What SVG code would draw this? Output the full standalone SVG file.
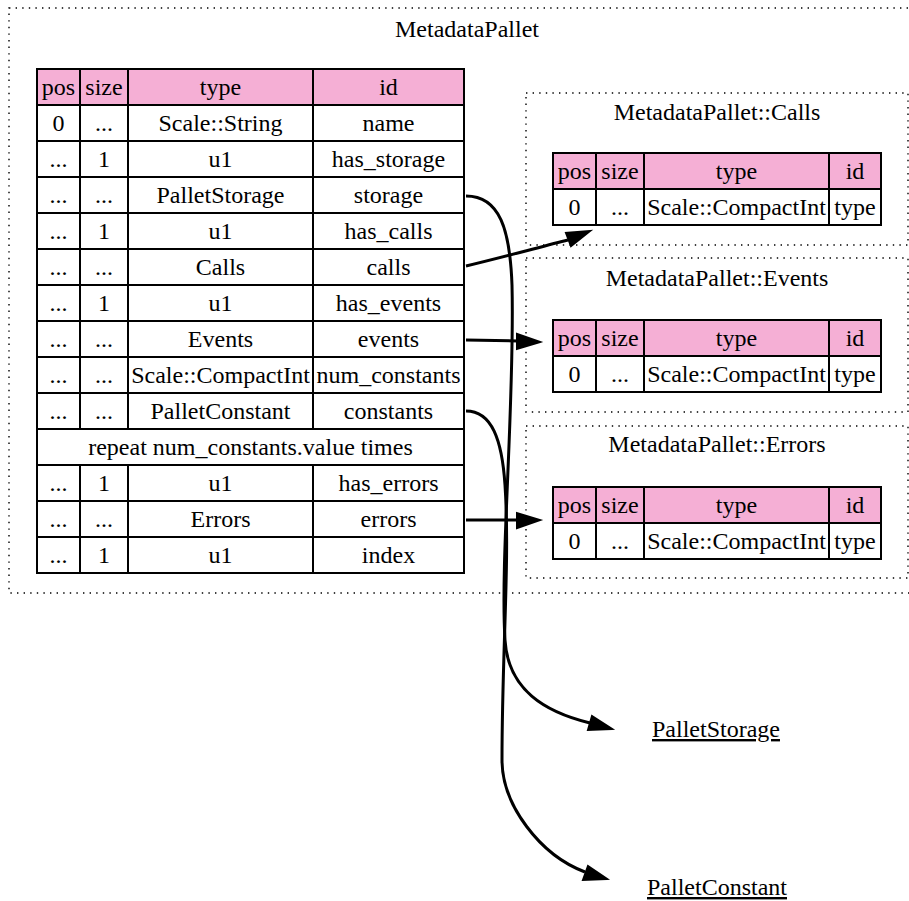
<svg xmlns="http://www.w3.org/2000/svg" width="909" height="901" viewBox="0 0 909 901">
<style>
text{font-family:"Liberation Serif","Times New Roman",serif;font-size:24px;fill:#000;text-anchor:middle}
.cl{fill:none;stroke:#000;stroke-width:1.4;stroke-dasharray:1.4,5.2}
.hd{fill:#f5afd5;stroke:none}
.bd{fill:#fff;stroke:none}
.ln{stroke:#000;stroke-width:2;fill:none}
.ed{stroke:#000;stroke-width:3;fill:none}
.ah{fill:#000;stroke:#000;stroke-width:2}
.u{text-decoration:underline}
</style>
<rect class="cl" x="9" y="8" width="920" height="585"/>
<text x="467" y="37">MetadataPallet</text>
<rect class="cl" x="526" y="93" width="382" height="152"/>
<text x="717" y="120">MetadataPallet::Calls</text>
<rect class="cl" x="526" y="258" width="382" height="154"/>
<text x="717" y="286">MetadataPallet::Events</text>
<rect class="cl" x="526" y="426" width="382" height="152"/>
<text x="717" y="452">MetadataPallet::Errors</text>

<g id="MetadataPallet">
<rect class="hd" x="37" y="69" width="427" height="36"/>
<rect class="bd" x="37" y="105" width="427" height="468"/>
<g class="ln">
<rect x="37" y="69" width="427" height="504"/>
<path d="M37,105H464M37,141H464M37,177H464M37,213H464M37,249H464M37,285H464M37,321H464M37,357H464M37,393H464M37,429H464M37,465H464M37,501H464M37,537H464"/>
<path d="M80,69V429M128,69V429M313,69V429M80,465V573M128,465V573M313,465V573"/>
</g>
<text x="58.5" y="95">pos</text><text x="104" y="95">size</text><text x="220.5" y="95">type</text><text x="388.5" y="95">id</text>
<text x="58.5" y="131">0</text><text x="104" y="131">...</text><text x="220.5" y="131">Scale::String</text><text x="388.5" y="131">name</text>
<text x="58.5" y="167">...</text><text x="104" y="167">1</text><text x="220.5" y="167">u1</text><text x="388.5" y="167">has_storage</text>
<text x="58.5" y="203">...</text><text x="104" y="203">...</text><text x="220.5" y="203">PalletStorage</text><text x="388.5" y="203">storage</text>
<text x="58.5" y="239">...</text><text x="104" y="239">1</text><text x="220.5" y="239">u1</text><text x="388.5" y="239">has_calls</text>
<text x="58.5" y="275">...</text><text x="104" y="275">...</text><text x="220.5" y="275">Calls</text><text x="388.5" y="275">calls</text>
<text x="58.5" y="311">...</text><text x="104" y="311">1</text><text x="220.5" y="311">u1</text><text x="388.5" y="311">has_events</text>
<text x="58.5" y="347">...</text><text x="104" y="347">...</text><text x="220.5" y="347">Events</text><text x="388.5" y="347">events</text>
<text x="58.5" y="383">...</text><text x="104" y="383">...</text><text x="220.5" y="383">Scale::CompactInt</text><text x="388.5" y="383">num_constants</text>
<text x="58.5" y="419">...</text><text x="104" y="419">...</text><text x="220.5" y="419">PalletConstant</text><text x="388.5" y="419">constants</text>
<text x="250.5" y="455">repeat num_constants.value times</text>
<text x="58.5" y="491">...</text><text x="104" y="491">1</text><text x="220.5" y="491">u1</text><text x="388.5" y="491">has_errors</text>
<text x="58.5" y="527">...</text><text x="104" y="527">...</text><text x="220.5" y="527">Errors</text><text x="388.5" y="527">errors</text>
<text x="58.5" y="563">...</text><text x="104" y="563">1</text><text x="220.5" y="563">u1</text><text x="388.5" y="563">index</text>
</g>

<g id="MetadataPallet__Calls">
<rect class="hd" x="553" y="153" width="328" height="36"/>
<rect class="bd" x="553" y="189" width="328" height="36"/>
<g class="ln"><rect x="553" y="153" width="328" height="72"/><path d="M553,189H881M596,153V225M644,153V225M829,153V225"/></g>
<text x="574.5" y="179">pos</text><text x="620" y="179">size</text><text x="736.5" y="179">type</text><text x="855" y="179">id</text>
<text x="574.5" y="215">0</text><text x="620" y="215">...</text><text x="736.5" y="215">Scale::CompactInt</text><text x="855" y="215">type</text>
</g>

<g id="MetadataPallet__Events">
<rect class="hd" x="553" y="320" width="328" height="36"/>
<rect class="bd" x="553" y="356" width="328" height="36"/>
<g class="ln"><rect x="553" y="320" width="328" height="72"/><path d="M553,356H881M596,320V392M644,320V392M829,320V392"/></g>
<text x="574.5" y="346">pos</text><text x="620" y="346">size</text><text x="736.5" y="346">type</text><text x="855" y="346">id</text>
<text x="574.5" y="382">0</text><text x="620" y="382">...</text><text x="736.5" y="382">Scale::CompactInt</text><text x="855" y="382">type</text>
</g>

<g id="MetadataPallet__Errors">
<rect class="hd" x="553" y="487" width="328" height="36"/>
<rect class="bd" x="553" y="523" width="328" height="36"/>
<g class="ln"><rect x="553" y="487" width="328" height="72"/><path d="M553,523H881M596,487V559M644,487V559M829,487V559"/></g>
<text x="574.5" y="513">pos</text><text x="620" y="513">size</text><text x="736.5" y="513">type</text><text x="855" y="513">id</text>
<text x="574.5" y="549">0</text><text x="620" y="549">...</text><text x="736.5" y="549">Scale::CompactInt</text><text x="855" y="549">type</text>
</g>

<g id="PalletStorage"><text class="u" x="716" y="737">PalletStorage</text></g>
<g id="PalletConstant"><text class="u" x="717" y="895">PalletConstant</text></g>

<g id="connectors">
<path class="ed" d="M466,196 C500,196 510,230 512,285 C515,400 500,560 505,640 C508,690 545,712 590,723"/>
<polygon class="ah" points="612,729 588,730 592,716"/>
<path class="ed" d="M466,411 C492,411 502,440 505,485 C510,560 502,650 502,760 C502,805 540,855 585,872"/>
<polygon class="ah" points="607,879 583,880 588,866"/>
<path class="ed" d="M466,266 C500,258 540,247 568,240"/>
<polygon class="ah" points="590,231 571,246 566,233"/>
<path class="ed" d="M466,340 L518,341"/>
<polygon class="ah" points="540,342 517,349 517,334"/>
<path class="ed" d="M466,520 L518,520"/>
<polygon class="ah" points="540,520 517,528 517,513"/>
</g>
</svg>
